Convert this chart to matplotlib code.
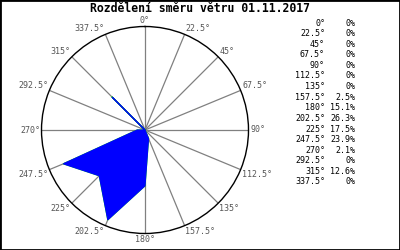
import numpy as np
import matplotlib
matplotlib.use("Agg")
import matplotlib.pyplot as plt
from matplotlib.patches import Rectangle

directions = [0, 22.5, 45, 67.5, 90, 112.5, 135, 157.5, 180, 202.5,
              225, 247.5, 270, 292.5, 315, 337.5]
shares = [0, 0, 0, 0, 0, 0, 0, 2.5, 15.1, 26.3, 17.5, 23.9, 2.1, 0, 12.6, 0]
title = "Rozdělení směru větru 01.11.2017"

plt.rcParams['font.family'] = 'DejaVu Sans Mono'

fig = plt.figure(figsize=(4, 2.5), dpi=100)
ax = fig.add_axes([41.5 / 400, 16.5 / 250, 207 / 400, 207 / 250],
                  projection='polar')
ax.set_theta_zero_location('N')
ax.set_theta_direction(-1)

rmax = 28
theta = np.deg2rad(directions + [directions[0]])
r = shares + [shares[0]]
ax.plot(theta, r, color='#00dd00', lw=0.9, zorder=2)
ax.fill(theta, r, facecolor='#0000ff', edgecolor='#0000ff', lw=0.8, zorder=3)

ax.set_ylim(0, rmax)
ax.set_yticks([])
ax.set_thetagrids(directions, [''] * len(directions))
ax.xaxis.grid(True, color='#808080', lw=0.9)
ax.spines['polar'].set_color('black')
ax.spines['polar'].set_linewidth(1)

# direction labels sitting at the outer end of each spoke
for d in directions:
    if d in (0, 180):
        ha = 'center'
    elif d < 180:
        ha = 'left'
    else:
        ha = 'right'
    if d in (90, 270):
        va = 'center'
    elif d < 90 or d > 270:
        va = 'bottom'
    else:
        va = 'top'
    ax.text(np.deg2rad(d), rmax * 1.015, "{:g}°".format(d), ha=ha, va=va,
            fontsize=6, color='#555555', clip_on=False)

fig.text(0.5, 1 - 8.5 / 250, title, ha='center', va='center', fontsize=8.3,
         fontweight='bold')

for i, (d, s) in enumerate(zip(directions, shares)):
    y = 1 - (23 + i * 10.6) / 250
    fig.text(325 / 400, y, "{:g}°".format(d), ha='right', va='center',
             fontsize=6)
    fig.text(355 / 400, y, "{:g}%".format(s), ha='right', va='center',
             fontsize=6)

fig.patches.append(Rectangle((0, 0), 1, 1, transform=fig.transFigure,
                             fill=False, edgecolor='black', lw=2))

fig.savefig('out.png', dpi=100)
